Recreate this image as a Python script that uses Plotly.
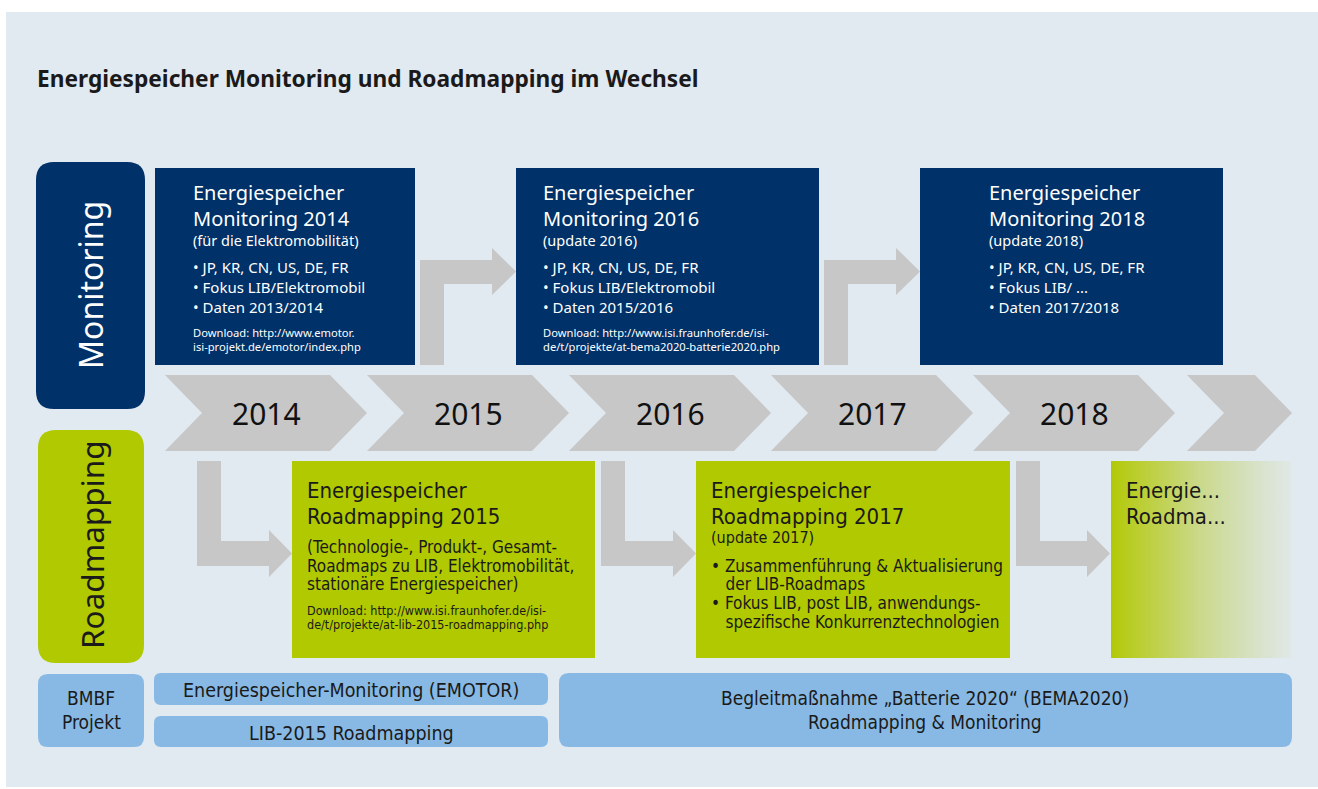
import plotly.graph_objects as go

# ---- content ----
years = ["2014", "2015", "2016", "2017", "2018", ""]

mon_titles = [
    ["Energiespeicher", "Monitoring 2014"],
    ["Energiespeicher", "Monitoring 2016"],
    ["Energiespeicher", "Monitoring 2018"],
]
mon_subs = ["(für die Elektromobilität)", "(update 2016)", "(update 2018)"]
mon_bullets = [
    ["• JP, KR, CN, US, DE, FR", "• Fokus LIB/Elektromobil", "• Daten 2013/2014"],
    ["• JP, KR, CN, US, DE, FR", "• Fokus LIB/Elektromobil", "• Daten 2015/2016"],
    ["• JP, KR, CN, US, DE, FR", "• Fokus LIB/ ...", "• Daten 2017/2018"],
]
mon_downloads = [
    ["Download: http://www.emotor.", "isi-projekt.de/emotor/index.php"],
    ["Download: http://www.isi.fraunhofer.de/isi-", "de/t/projekte/at-bema2020-batterie2020.php"],
    [],
]

road_titles = [
    ["Energiespeicher", "Roadmapping 2015"],
    ["Energiespeicher", "Roadmapping 2017"],
    ["Energie...", "Roadma..."],
]
road_subs = ["", "(update 2017)", ""]
road_body = [
    ["(Technologie-, Produkt-, Gesamt-", "Roadmaps zu LIB, Elektromobilität,", "stationäre Energiespeicher)"],
    ["• Zusammenführung & Aktualisierung", "   der LIB-Roadmaps", "• Fokus LIB, post LIB, anwendungs-",
     "   spezifische Konkurrenztechnologien"],
    [],
]
road_downloads = [
    ["Download: http://www.isi.fraunhofer.de/isi-", "de/t/projekte/at-lib-2015-roadmapping.php"],
    [],
    [],
]

projects = ["Energiespeicher-Monitoring (EMOTOR)", "LIB-2015 Roadmapping",
            "Begleitmaßnahme „Batterie 2020“ (BEMA2020)<br>Roadmapping & Monitoring"]

title = "Energiespeicher Monitoring und Roadmapping im Wechsel"

# ---- styling ----
BG = "#e1e9f1"
NAVY = "#003168"
GREEN = "#b0c900"
GRAY = "#c6c7c6"
LBLUE = "#87b9e4"
DARK = "#1a1a1a"
FONT = "Noto Sans, Open Sans, sans-serif"
NARROW = "Liberation Sans Narrow, DejaVu Sans Condensed, sans-serif"

W, H = 1318, 789

shapes = []
annos = []


def rect(x0, y0, x1, y1, color):
    shapes.append(dict(type="rect", x0=x0, y0=y0, x1=x1, y1=y1,
                       fillcolor=color, line=dict(width=0), layer="below"))


def rrect(x0, y0, x1, y1, r, color):
    p = (f"M {x0+r},{y0} L {x1-r},{y0} Q {x1},{y0} {x1},{y0+r} "
         f"L {x1},{y1-r} Q {x1},{y1} {x1-r},{y1} L {x0+r},{y1} "
         f"Q {x0},{y1} {x0},{y1-r} L {x0},{y0+r} Q {x0},{y0} {x0+r},{y0} Z")
    shapes.append(dict(type="path", path=p, fillcolor=color,
                       line=dict(width=0), layer="below"))


def poly(pts, color):
    p = "M " + " L ".join(f"{x},{y}" for x, y in pts) + " Z"
    shapes.append(dict(type="path", path=p, fillcolor=color,
                       line=dict(width=0), layer="below"))


def text(x, y, s, size, color=DARK, family=FONT, anchor="left", angle=0, bold=False):
    if bold:
        s = f"<b>{s}</b>"
    annos.append(dict(x=x, y=y, xref="x", yref="y", text=s, showarrow=False,
                      xanchor=anchor, yanchor="middle", textangle=angle, borderpad=0,
                      align="left" if anchor == "left" else "center",
                      font=dict(size=size, color=color, family=family)))


# background panel
rect(6, 12, W, 787, BG)
text(36, 78, title, 22.7, bold=True)

# row labels
rrect(36, 162, 145, 409, 18, NAVY)
text(90, 285, "Monitoring", 32, color="white", anchor="center", angle=-90)
rrect(38, 430, 144, 663, 18, GREEN)
text(91, 545, "Roadmapping", 31.5, color=DARK, anchor="center", angle=-90)

# timeline chevrons
chev_x0 = [165, 367, 569, 771, 973, 1187]
chev_w = [165, 165, 165, 165, 165, 68]
d, yt, yb = 37, 375, 451
ym = (yt + yb) / 2
for x0, w, yr in zip(chev_x0, chev_w, years):
    x1 = x0 + w
    poly([(x0, yt), (x1, yt), (x1 + d, ym), (x1, yb), (x0, yb), (x0 + d, ym)], GRAY)
    if yr:
        text((x0 + d + x1) / 2, ym, yr, 30, color="#111111", anchor="center")

# connector arrows up into monitoring boxes
for xl, hb in zip([420, 824], [492, 896]):
    xr, tip = xl + 24, hb + 24
    poly([(xl, 365), (xl, 260), (hb, 260), (hb, 248), (tip, 271.5),
          (hb, 295), (hb, 284), (xr, 284), (xr, 365)], GRAY)

# connector arrows down into roadmapping boxes
for xl, hb in zip([197, 601, 1016], [269, 673, 1087]):
    xr, tip = xl + 24, hb + 23
    poly([(xl, 461), (xr, 461), (xr, 541), (hb, 541), (hb, 530), (tip, 553.5),
          (hb, 577), (hb, 566), (xl, 566)], GRAY)

# monitoring boxes
mon_x = [(155, 415), (516, 819), (920, 1223)]
mon_tx = [192, 542, 988]
for (x0, x1), tx, tl, sub, bl, dl in zip(mon_x, mon_tx, mon_titles, mon_subs, mon_bullets, mon_downloads):
    rect(x0, 168, x1, 365, NAVY)
    text(tx, 205.5, "<br>".join(tl), 20, color="white")
    text(tx, 240, sub, 14.5, color="white")
    for i, s in enumerate(bl):
        text(tx, 267 + 20 * i, s, 15, color="white")
    for i, s in enumerate(dl):
        text(tx, 332 + 14.5 * i, s, 11.2, color="white")

# roadmapping boxes
road_x = [(292, 595), (696, 1010)]
for (x0, x1) in road_x:
    rect(x0, 461, x1, 658, GREEN)

# fading last box
fig = go.Figure()
fig.add_trace(go.Scatter(
    x=[1111, 1291, 1291, 1111, 1111], y=[461, 461, 658, 658, 461],
    mode="lines", line=dict(width=0), fill="toself", hoverinfo="skip",
    fillgradient=dict(type="horizontal",
                      colorscale=[[0, "#b2c906"], [0.12, "#b9cd28"], [0.5, "#cbd98c"],
                                  [0.85, "#d9e3cf"], [1, "#e0e8e6"]]),
    showlegend=False))

road_tx = [306, 710, 1125]
for k, (tx, tl) in enumerate(zip(road_tx, road_titles)):
    for i, s in enumerate(tl):
        text(tx, 490 + 26 * i, s, 22, family=NARROW)
    if road_subs[k]:
        text(tx, 537, road_subs[k], 16, family=NARROW)
road_body_y = [[547, 566, 584], [566, 584, 603, 622]]
for k in range(2):
    for s, y in zip(road_body[k], road_body_y[k]):
        text(road_tx[k], y, s, 17, family=NARROW)
for i, s in enumerate(road_downloads[0]):
    text(306, 610 + 14.5 * i, s, 12.5, family=NARROW)

# BMBF project bars
rrect(38, 674, 144, 747, 10, LBLUE)
text(91, 698, "BMBF", 19, anchor="center", family=NARROW)
text(91, 722, "Projekt", 19, anchor="center", family=NARROW)
rrect(154, 673, 548, 705, 7, LBLUE)
text(351, 690, projects[0], 19.5, anchor="center", family=NARROW)
rrect(154, 716, 548, 747, 7, LBLUE)
text(351, 733, projects[1], 19.5, anchor="center", family=NARROW)
rrect(559, 673, 1292, 747, 10, LBLUE)
for i, s in enumerate(projects[2].split("<br>")):
    text(925, 698 + 24 * i, s, 19, anchor="center", family=NARROW)

fig.update_layout(
    width=W, height=H, margin=dict(l=0, r=0, t=0, b=0),
    paper_bgcolor="white", plot_bgcolor="white",
    xaxis=dict(range=[0, W], visible=False, fixedrange=True),
    yaxis=dict(range=[H, 0], visible=False, fixedrange=True),
    shapes=shapes, annotations=annos, showlegend=False,
)
fig.write_html("out.html", config={"displayModeBar": False},
               post_script="document.body.style.margin='0px';document.body.style.overflow='hidden';")
